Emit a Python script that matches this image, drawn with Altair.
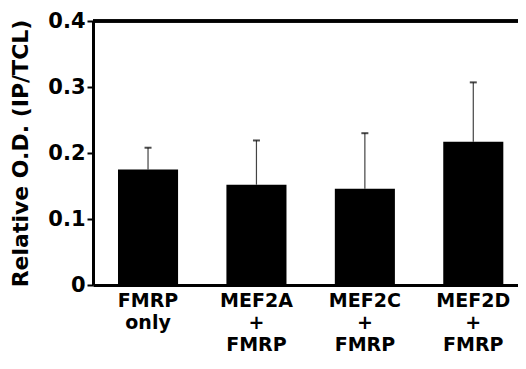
import altair as alt
import pandas as pd

categories = ["FMRP|only", "MEF2A|+|FMRP", "MEF2C|+|FMRP", "MEF2D|+|FMRP"]
values = [0.175, 0.152, 0.146, 0.217]
upper = [0.208, 0.219, 0.230, 0.307]
y_ticks = [0, 0.1, 0.2, 0.3, 0.4]

df = pd.DataFrame({"cat": categories, "val": values, "up": upper})

FONT = "DejaVu Sans"

x_enc = alt.X(
    "cat:N",
    sort=categories,
    scale=alt.Scale(paddingInner=0.446, paddingOuter=0.183, align=0.63),
    axis=alt.Axis(
        title=None,
        labelAngle=0,
        labelAlign="center",
        labelExpr="split(datum.label, '|')",
        labelFont=FONT,
        labelFontSize=19,
        labelFontWeight="bold",
        labelColor="black",
        labelLineHeight=22,
        labelBaseline="top",
        labelPadding=6,
        ticks=False,
        domainWidth=3,
        domainColor="black",
    ),
)

y_scale = alt.Scale(domain=[0, 0.4], nice=False)

bars = alt.Chart(df).mark_bar(color="black").encode(
    x=x_enc,
    y=alt.Y(
        "val:Q",
        scale=y_scale,
        axis=alt.Axis(
            title="Relative O.D. (IP/TCL)",
            titleFont=FONT,
            titleFontSize=22,
            titleFontWeight="bold",
            titleColor="black",
            titlePadding=15,
            values=y_ticks,
            format="~g",
            labelFont=FONT,
            labelFontSize=21,
            labelFontWeight="bold",
            labelColor="black",
            labelPadding=2,
            tickSize=6,
            tickWidth=2,
            tickColor="black",
            domainWidth=3,
            domainColor="black",
            grid=False,
        ),
    ),
)

err = alt.Chart(df).mark_rule(color="#444444", strokeWidth=1.2).encode(
    x=alt.X("cat:N", sort=categories),
    y="val:Q",
    y2="up:Q",
)

caps = alt.Chart(df).mark_tick(color="black", size=7, thickness=2, orient="horizontal").encode(
    x=alt.X("cat:N", sort=categories),
    y="up:Q",
)

top = alt.Chart(df).mark_rule(color="black", strokeWidth=3).encode(
    y=alt.datum(0.4, type="quantitative"),
)

chart = alt.layer(err, bars, caps, top).properties(
    width=425,
    height=264,
    padding={"left": 85, "top": 13, "right": 0, "bottom": 72},
    autosize=alt.AutoSizeParams(type="none"),
).configure_view(stroke=None)

chart.save("out.html", embed_options={"renderer": "svg", "actions": False})
